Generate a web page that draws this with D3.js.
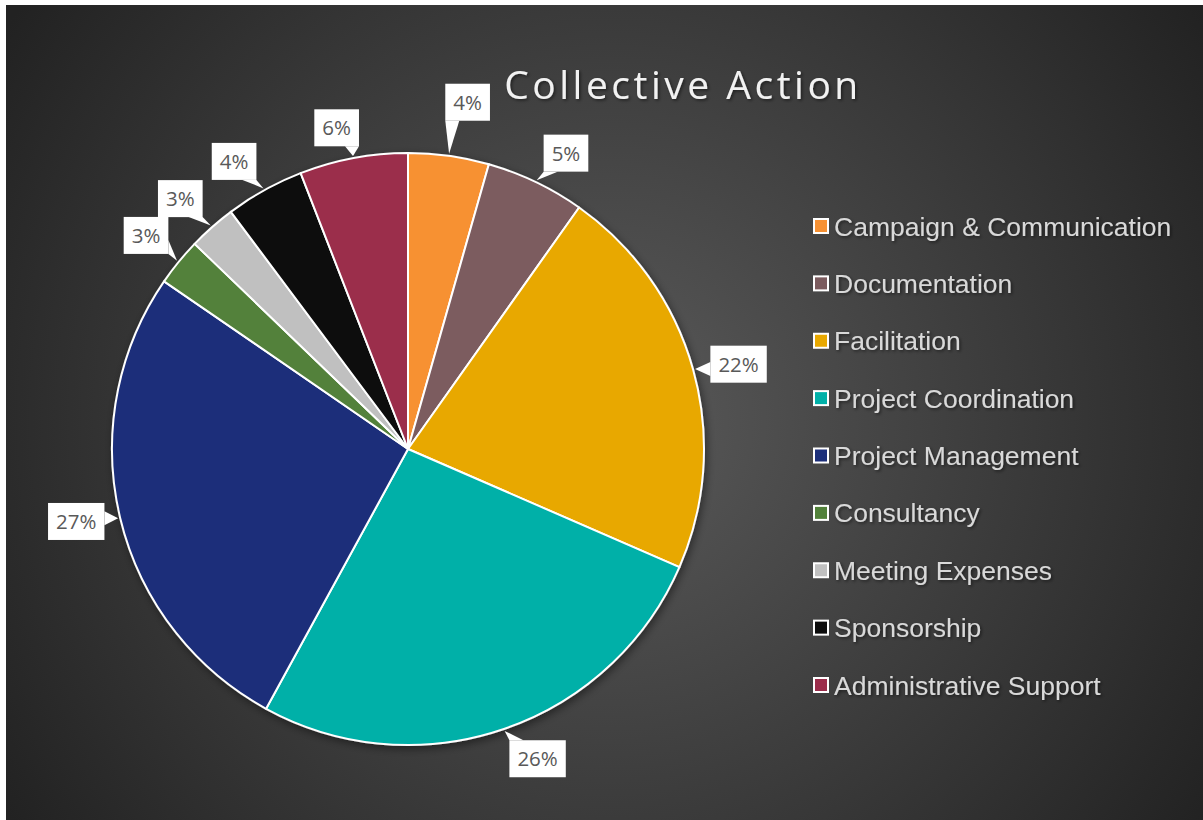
<!DOCTYPE html>
<html>
<head>
<meta charset="utf-8">
<script src="https://cdn.jsdelivr.net/npm/d3@7"></script>
<style>
  body { margin: 0; background: #fff; }
  svg { display: block; }
</style>
</head>
<body>
<div id="chart"></div>
<script>
/*
  Collective Action pie
*/

var categories = ["Campaign & Communication", "Documentation", "Facilitation",
                  "Project Coordination", "Project Management", "Consultancy",
                  "Meeting Expenses", "Sponsorship", "Administrative Support"];
var shares = [4.4, 5.4, 21.7, 26.4, 26.6, 2.6, 2.6, 4.3, 5.9];
var colors = ["#f79133", "#7b5b5e", "#e8a800", "#00b0a8", "#1c2f7a",
              "#52813a", "#c0c0c0", "#0d0d0d", "#9b2d4b"];

// small nudges for the callout boxes (layout only)
var labelShift = [[13, -12], [12, 9], [5, 6], [20, -10], [-3, -6], [0, 0], [-4, 3], [-10, 8], [-9, 11]];

var W = 1203, H = 820;
var cx = 408, cy = 449, radius = 296, labelRadius = 338;

var svg = d3.select("#chart").append("svg")
  .attr("width", W)
  .attr("height", H);

var defs = svg.append("defs");

var grad = defs.append("radialGradient")
  .attr("id", "bg")
  .attr("gradientUnits", "userSpaceOnUse")
  .attr("cx", 610).attr("cy", 420).attr("r", 720);
grad.append("stop").attr("offset", "0%").attr("stop-color", "#5a5a5a");
grad.append("stop").attr("offset", "100%").attr("stop-color", "#222222");

var shadow = defs.append("filter").attr("id", "pieShadow")
  .attr("x", "-20%").attr("y", "-20%").attr("width", "140%").attr("height", "140%");
shadow.append("feDropShadow")
  .attr("dx", 2).attr("dy", 3).attr("stdDeviation", 4)
  .attr("flood-color", "#000").attr("flood-opacity", 0.45);

var textShadow = defs.append("filter").attr("id", "textShadow")
  .attr("x", "-10%").attr("y", "-30%").attr("width", "120%").attr("height", "160%");
textShadow.append("feDropShadow")
  .attr("dx", 1.5).attr("dy", 1.5).attr("stdDeviation", 1.5)
  .attr("flood-color", "#000").attr("flood-opacity", 0.5);

svg.append("rect")
  .attr("x", 6).attr("y", 5)
  .attr("width", W - 6).attr("height", H - 5)
  .attr("fill", "url(#bg)");

//Title
svg.append("text")
  .attr("x", 683)
  .attr("y", 99)
  .attr("text-anchor", "middle")
  .style("font-family", "'Open Sans', sans-serif")
  .style("font-size", "39px")
  .style("letter-spacing", "3.5px")
  .style("fill", "#f2f2f2")
  .attr("filter", "url(#textShadow)")
  .text("Collective Action");

var data = categories.map(function(c, i) {
  return {label: c, value: shares[i], color: colors[i], index: i};
});
var total = d3.sum(shares);

var pie = d3.pie().sort(null).value(function(d) { return d.value; });
var arc = d3.arc().innerRadius(0).outerRadius(radius);
var arcs = pie(data);

var g = svg.append("g")
  .attr("transform", "translate(" + cx + "," + cy + ")");

g.append("g")
  .attr("filter", "url(#pieShadow)")
  .selectAll("path")
  .data(arcs)
  .enter().append("path")
    .attr("d", arc)
    .attr("fill", function(d) { return d.data.color; })
    .attr("stroke", "#fff")
    .attr("stroke-width", 2)
    .attr("stroke-linejoin", "round");

//Callout labels
var labels = g.append("g").selectAll("g")
  .data(arcs)
  .enter().append("g");

labels.each(function(d) {
  var sel = d3.select(this),
      a = (d.startAngle + d.endAngle) / 2,
      shift = labelShift[d.index],
      bx = Math.sin(a) * labelRadius + shift[0],
      by = -Math.cos(a) * labelRadius + shift[1],
      tx = Math.sin(a) * (radius + 2),
      ty = -Math.cos(a) * (radius + 2);

  var txt = sel.append("text")
    .attr("x", bx)
    .attr("y", by)
    .attr("dy", "0.36em")
    .attr("text-anchor", "middle")
    .style("font-family", "'Open Sans', sans-serif")
    .style("font-size", "20.5px")
    .style("fill", "#595959")
    .text(Math.round(d.data.value / total * 100) + "%");

  var tw = txt.node().getComputedTextLength(),
      w = tw + 16, h = 37,
      x0 = bx - w / 2, y0 = by - h / 2, x1 = x0 + w, y1 = y0 + h;

  // wedge base on the box side facing the slice
  var dx = tx - bx, dy = ty - by, p1, p2, half = 7;
  if (Math.abs(dx) / (w / 2) > Math.abs(dy) / (h / 2)) {
    var ex = dx < 0 ? x0 : x1,
        c = Math.max(y0 + half, Math.min(y1 - half, ty));
    p1 = [ex, c - half]; p2 = [ex, c + half];
  } else {
    var ey = dy < 0 ? y0 : y1,
        c2 = Math.max(x0 + half, Math.min(x1 - half, tx));
    p1 = [c2 - half, ey]; p2 = [c2 + half, ey];
  }

  sel.insert("rect", "text")
    .attr("x", x0).attr("y", y0)
    .attr("width", w).attr("height", h)
    .attr("fill", "#fff");

  sel.insert("path", "text")
    .attr("d", "M" + p1 + "L" + [tx, ty] + "L" + p2 + "Z")
    .attr("fill", "#fff");
});

//Legend
var ly = d3.scalePoint().domain(categories).range([226, 685]);

var legend = svg.append("g").selectAll("g")
  .data(data)
  .enter().append("g")
    .attr("transform", function(d) { return "translate(813," + ly(d.label) + ")"; });

legend.append("rect")
  .attr("x", 1).attr("y", -7)
  .attr("width", 14).attr("height", 14)
  .attr("fill", function(d) { return d.color; })
  .attr("stroke", "#fff")
  .attr("stroke-width", 2);

legend.append("text")
  .attr("x", 21)
  .attr("y", 0)
  .attr("dy", "0.36em")
  .style("font-family", "'Liberation Sans', Arial, sans-serif")
  .style("font-size", "26.5px")
  .style("fill", "#d9d9d9")
  .attr("filter", "url(#textShadow)")
  .text(function(d) { return d.label; });
</script>
</body>
</html>
